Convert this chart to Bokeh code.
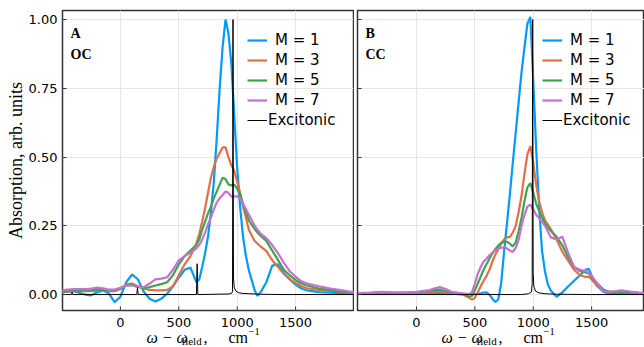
from bokeh.plotting import figure
from bokeh.layouts import row, column
from bokeh.models import Range1d, FixedTicker, PrintfTickFormatter, Legend, LegendItem, Label, Grid
from bokeh.core.properties import value
from bokeh.embed import file_html
from bokeh.resources import INLINE

# ---------------- data ----------------
series_names = ["M = 1", "M = 3", "M = 5", "M = 7"]
series_colors = ["#009AFA", "#E36F47", "#3EA44E", "#C371D2"]
exc_name = "Excitonic"
x_ticks = [0, 500, 1000, 1500]
x_tick_labels = ["0", "500", "1000", "1500"]
y_ticks = [0.0, 0.25, 0.5, 0.75, 1.0]
y_title = "Absorption, arb. units"
# x title pieces: omega minus omega_field, cm^-1
x_title_parts = ["ω − ω", "field", ",", "cm", "−1"]

# Panel A (OC)
xA = [-500, -400, -300, -250, -200, -150, -100, -50, 0, 50, 100, 150, 200, 250, 300, 350, 400, 450, 500, 550,
      600, 650, 675, 700, 725, 750, 775, 800, 825, 850, 875, 900, 925, 950, 975, 1000, 1025, 1050, 1075, 1100,
      1150, 1175, 1200, 1250, 1300, 1350, 1400, 1450, 1500, 1550, 1600, 1700, 1800, 1900, 2000]
m1A = [0.012, 0.012, 0.0, -0.003, 0.008, 0.015, 0.005, -0.028, -0.008, 0.045, 0.073, 0.055, 0.01, -0.015, -0.025, -0.015, 0.003, 0.03, 0.062, 0.09,
       0.098, 0.045, 0.055, 0.1, 0.15, 0.21, 0.3, 0.41, 0.57, 0.75, 0.9, 1.0, 0.95, 0.84, 0.65, 0.46, 0.32, 0.21, 0.14, 0.088,
       0.015, -0.005, 0.008, 0.045, 0.105, 0.11, 0.078, 0.055, 0.036, 0.022, 0.015, 0.009, 0.007, 0.005, 0.003]
m3A = [0.008, 0.012, 0.012, 0.012, 0.015, 0.015, 0.012, 0.012, 0.02, 0.037, 0.04, 0.03, 0.022, 0.017, 0.015, 0.015, 0.017, 0.03, 0.07, 0.11,
       0.14, 0.185, 0.22, 0.265, 0.315, 0.37, 0.425, 0.465, 0.495, 0.515, 0.535, 0.535, 0.5, 0.47, 0.45, 0.41, 0.37, 0.32, 0.28, 0.235,
       0.195, 0.185, 0.175, 0.158, 0.125, 0.1, 0.075, 0.056, 0.042, 0.03, 0.023, 0.017, 0.014, 0.01, 0.005]
m5A = [0.01, 0.013, 0.015, 0.015, 0.017, 0.017, 0.015, 0.015, 0.022, 0.033, 0.035, 0.028, 0.023, 0.027, 0.033, 0.038, 0.045, 0.07, 0.11, 0.14,
       0.16, 0.18, 0.2, 0.235, 0.265, 0.295, 0.32, 0.35, 0.375, 0.4, 0.425, 0.42, 0.4, 0.397, 0.4, 0.385, 0.365, 0.33, 0.3, 0.27,
       0.238, 0.225, 0.214, 0.195, 0.16, 0.125, 0.09, 0.07, 0.053, 0.04, 0.033, 0.022, 0.016, 0.01, 0.006]
m7A = [0.016, 0.02, 0.02, 0.022, 0.025, 0.023, 0.018, 0.018, 0.025, 0.033, 0.033, 0.028, 0.027, 0.04, 0.055, 0.058, 0.063, 0.09, 0.124, 0.14,
       0.152, 0.168, 0.18, 0.2, 0.225, 0.255, 0.28, 0.31, 0.335, 0.35, 0.362, 0.375, 0.37, 0.356, 0.357, 0.357, 0.35, 0.33, 0.31, 0.29,
       0.25, 0.235, 0.222, 0.205, 0.18, 0.15, 0.115, 0.085, 0.065, 0.048, 0.04, 0.03, 0.022, 0.015, 0.008]
xExcA = [-500, -420, -414, -408, 140, 146, 152, 651, 657, 663, 930, 955, 960, 964, 968, 975, 990, 1010, 1050, 1100, 1200, 1400, 2000]
excA = [0.0, 0.0, 0.008, 0.0, 0.0, 0.025, 0.0, 0.0, 0.112, 0.0, 0.002, 0.006, 0.012, 1.0, 0.06, 0.025, 0.012, 0.007, 0.004, 0.003, 0.001, 0.0, 0.0]

# Panel B (CC)
xB = [-500, -400, -300, -200, -100, 0, 100, 150, 200, 250, 300, 400, 450, 475, 500, 525, 550, 575, 600,
      625, 650, 675, 700, 725, 750, 775, 800, 825, 850, 875, 900, 925, 950, 975, 1000, 1025, 1050, 1075, 1100, 1125, 1150,
      1200, 1250, 1300, 1350, 1400, 1450, 1475, 1500, 1550, 1600, 1650, 1700, 1750, 1800, 1900, 2000]
m1B = [0.003, 0.003, 0.003, 0.003, 0.003, 0.003, 0.003, 0.005, 0.006, 0.004, 0.003, 0.002, 0.002, 0.002, 0.002, 0.003, 0.004, 0.007, 0.008,
       0.0, -0.015, -0.027, -0.018, 0.04, 0.155, 0.26, 0.365, 0.48, 0.59, 0.7, 0.81, 0.9, 0.985, 1.01, 0.78, 0.53, 0.32, 0.16, 0.085, 0.037, 0.015,
       -0.008, 0.008, 0.03, 0.05, 0.07, 0.09, 0.094, 0.068, 0.03, 0.01, 0.003, 0.003, 0.003, 0.003, 0.003, 0.002]
m3B = [0.003, 0.004, 0.006, 0.005, 0.004, 0.005, 0.008, 0.01, 0.012, 0.008, 0.004, 0.0, -0.012, -0.018, -0.012, 0.008, 0.03, 0.05, 0.068,
       0.09, 0.12, 0.145, 0.165, 0.185, 0.2, 0.208, 0.21, 0.225, 0.25, 0.3, 0.36, 0.44, 0.51, 0.54, 0.48, 0.4, 0.34, 0.3, 0.27, 0.255, 0.238,
       0.2, 0.155, 0.122, 0.09, 0.07, 0.064, 0.065, 0.055, 0.03, 0.015, 0.01, 0.01, 0.012, 0.01, 0.006, 0.004]
m5B = [0.004, 0.005, 0.007, 0.006, 0.006, 0.008, 0.012, 0.016, 0.018, 0.012, 0.006, 0.002, -0.008, -0.005, 0.015, 0.04, 0.065, 0.09, 0.11,
       0.13, 0.15, 0.165, 0.178, 0.188, 0.192, 0.192, 0.185, 0.175, 0.19, 0.23, 0.28, 0.34, 0.39, 0.405, 0.37, 0.33, 0.305, 0.28, 0.26, 0.245, 0.232,
       0.21, 0.178, 0.135, 0.1, 0.085, 0.08, 0.078, 0.062, 0.04, 0.018, 0.01, 0.01, 0.011, 0.01, 0.007, 0.005]
m7B = [0.005, 0.007, 0.01, 0.008, 0.008, 0.01, 0.015, 0.022, 0.027, 0.02, 0.01, 0.004, 0.002, 0.008, 0.04, 0.075, 0.1, 0.12, 0.13,
       0.143, 0.152, 0.16, 0.167, 0.17, 0.172, 0.168, 0.16, 0.155, 0.17, 0.2, 0.25, 0.29, 0.32, 0.327, 0.31, 0.29, 0.278, 0.265, 0.25, 0.23, 0.208,
       0.2, 0.21, 0.15, 0.1, 0.09, 0.085, 0.078, 0.068, 0.04, 0.012, 0.01, 0.012, 0.015, 0.013, 0.006, 0.003]
xExcB = [-500, 900, 960, 985, 991, 995, 999, 1005, 1020, 1050, 1100, 1200, 1500, 2000]
excB = [0.0, 0.0, 0.003, 0.01, 0.04, 1.0, 0.08, 0.03, 0.012, 0.006, 0.003, 0.001, 0.0, 0.0]

panels = [
    dict(tag="A", name="OC", x=xA, ys=[m1A, m3A, m5A, m7A], xe=xExcA, ye=excA),
    dict(tag="B", name="CC", x=xB, ys=[m1B, m3B, m5B, m7B], xe=xExcB, ye=excB),
]

SERIF = "Liberation Serif"
SANS = "DejaVu Sans"
UNITS_PER_PX = 2492 / 291
Y_LO, Y_HI = -0.058, 1.033
FRAME_H = 300
BOTTOM_H = 35  # strip below each panel: x tick labels and x title
TICK_PX = 4


def panel_geometry(first):
    if first:
        return 291, 62, 1
    return 287, 3, 0


def make_panel(d, first, xr):
    fw, mbl, mbr = panel_geometry(first)
    p = figure(title=None, x_range=xr, y_range=Range1d(Y_LO, Y_HI), frame_width=fw, frame_height=FRAME_H,
               min_border_left=mbl, min_border_right=mbr, min_border_top=10, min_border_bottom=2,
               x_axis_type=None, output_backend="svg", toolbar_location=None,
               background_fill_color="white", border_fill_color="white")
    p.outline_line_color = "#333333"
    p.outline_line_width = 1.5
    ax = p.yaxis
    ax.axis_line_color = None
    ax.major_tick_in = TICK_PX
    ax.major_tick_out = 0
    ax.minor_tick_line_color = None
    ax.major_tick_line_color = "#333333"
    ax.major_label_text_font = SANS
    ax.major_label_text_font_size = "13px"
    ax.major_label_text_color = "black"
    ax.major_label_standoff = 5
    ax.ticker = FixedTicker(ticks=y_ticks)
    ax.formatter = PrintfTickFormatter(format="%.2f")
    if first:
        ax.axis_label = y_title
        ax.axis_label_text_font = SERIF
        ax.axis_label_text_font_style = "normal"
        ax.axis_label_text_font_size = "18px"
        ax.axis_label_text_color = "black"
        ax.axis_label_standoff = 0
    else:
        ax.major_label_text_font_size = "0px"
        ax.major_label_text_color = None
        ax.major_label_standoff = 0
        ax.axis_label_standoff = 0
    p.ygrid.grid_line_color = "#e6e6e6"
    p.add_layout(Grid(dimension=0, ticker=FixedTicker(ticks=x_ticks), grid_line_color="#e6e6e6"))

    items = []
    for nm, col, ys in zip(series_names, series_colors, d["ys"]):
        r = p.line(d["x"], ys, line_color=col, line_width=2.2)
        items.append(LegendItem(label=nm, renderers=[r]))
    re = p.line(d["xe"], d["ye"], line_color="black", line_width=1)

    # inward x tick marks at the bottom of the frame
    tick_len = TICK_PX * (Y_HI - Y_LO) / FRAME_H
    n = len(x_ticks)
    p.segment(x0=x_ticks, y0=[Y_LO] * n, x1=x_ticks, y1=[Y_LO + tick_len] * n,
              line_color="#333333", line_width=1)

    common = dict(border_line_color=None, background_fill_alpha=0, padding=0, margin=0, spacing=0,
                  glyph_width=20, glyph_height=20, label_height=20,
                  label_text_font=SANS, label_text_font_size="15px", label_text_color="black")
    leg1 = Legend(items=items, location=(185, 200), label_standoff=8, **common)
    leg2 = Legend(items=[LegendItem(label=exc_name, renderers=[re])], location=(185, 180),
                  label_standoff=1, **common)
    p.add_layout(leg1)
    p.add_layout(leg2)

    for txt, yy in ((d["tag"], 277.5), (d["name"], 256.5)):
        p.add_layout(Label(x=8, y=yy, x_units="screen", y_units="screen", text=txt,
                           text_font=SERIF, text_font_style="bold", text_font_size="14px",
                           text_color="black", text_baseline="alphabetic", text_align="left"))
    return p


def make_strip(first, xr):
    fw, mbl, mbr = panel_geometry(first)
    t = figure(title=None, x_range=xr, y_range=Range1d(0, BOTTOM_H), frame_width=fw, frame_height=BOTTOM_H,
               min_border_left=mbl, min_border_right=mbr, min_border_top=0, min_border_bottom=0,
               x_axis_type=None, y_axis_type=None, toolbar_location=None,
               output_backend="svg", outline_line_color=None, background_fill_color="white",
               border_fill_color="white")
    t.grid.visible = False
    # tick labels at the tick positions of the shared x range
    t.text(x=x_ticks, y=[25.3] * len(x_ticks), text=x_tick_labels, text_font=value(SANS),
           text_font_size="13px", text_color="black", text_align="center", text_baseline="alphabetic")
    styles = [  # (x offset from frame left, y from bottom, size, style)
        (84, 10.3, "16px", "italic"),
        (119, 6.8, "11px", "normal"),
        (141, 10.3, "16px", "normal"),
        (166, 10.3, "16px", "normal"),
        (186, 16.5, "10.5px", "normal"),
    ]
    for txt, (dx, yy, fs, st) in zip(x_title_parts, styles):
        t.add_layout(Label(x=dx, y=yy, x_units="screen", y_units="screen", text=txt,
                           text_font=SERIF, text_font_style=st, text_font_size=fs, text_color="black",
                           text_baseline="alphabetic", text_align="left"))
    return t


xr1 = Range1d(-496, 1996)
xr2 = Range1d(-505, -505 + 287 * UNITS_PER_PX)
p1 = make_panel(panels[0], True, xr1)
p2 = make_panel(panels[1], False, xr2)
t1 = make_strip(True, xr1)
t2 = make_strip(False, xr2)
layout = column(row(p1, p2), row(t1, t2))

with open("out.html", "w") as f:
    f.write(file_html(layout, INLINE))
